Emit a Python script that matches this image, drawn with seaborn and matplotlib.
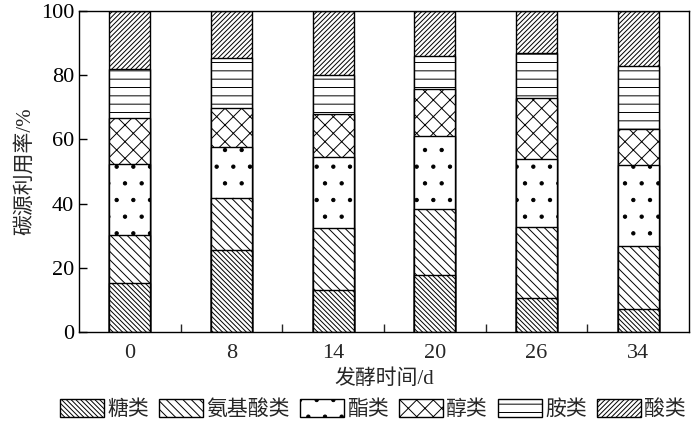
import numpy as np
import pandas as pd
import matplotlib
matplotlib.use("Agg")
import matplotlib.pyplot as plt
from matplotlib.patches import Patch
from matplotlib.ticker import FixedLocator
import seaborn as sns

# ===============================
# DATA (percent per carbon source group)
# ===============================
days = ["0", "8", "14", "20", "26", "34"]
groups = ["糖类", "氨基酸类", "酯类", "醇类", "胺类", "酸类"]

sugar = [15.3, 25.6, 13.1, 17.9, 10.7, 7.1]
amino = [15.0, 16.0, 19.4, 20.3, 21.9, 19.8]
ester = [21.9, 16.1, 22.1, 23.0, 21.2, 25.0]
alcohol = [14.4, 12.1, 13.4, 14.6, 19.1, 11.4]
amine = [15.4, 15.7, 12.0, 10.2, 14.1, 19.7]
acid = [18.0, 14.5, 20.0, 14.0, 13.0, 17.0]

hatches = ["\\" * 7, "\\" * 4, ".", "xx", "--", "/" * 7]

# ===============================
# STYLE
# ===============================
sns.set_style("ticks")
plt.rcParams["font.family"] = ["Liberation Serif", "Noto Sans CJK SC"]
plt.rcParams["hatch.linewidth"] = 0.7
plt.rcParams["axes.linewidth"] = 1.0

series = [sugar, amino, ester, alcohol, amine, acid]
cum = np.cumsum(np.array(series), axis=0)
cum = cum / cum[-1] * 100  # normalise each day to 100 %

fig = plt.figure(figsize=(7, 4.3), dpi=100)
ax = fig.add_axes([79 / 700, 1 - 332 / 430, 610 / 700, 321 / 430])

# draw from the top layer down so lower layers cover upper ones
for i in reversed(range(len(groups))):
    d = pd.DataFrame({"day": days, "value": cum[i]})
    sns.barplot(data=d, x="day", y="value", order=days, color="white",
                edgecolor="black", linewidth=1.0, hatch=hatches[i],
                width=0.4, ax=ax, saturation=1)
for p in ax.patches:
    p.set_facecolor("white")
    p.set_edgecolor("black")

ax.set_xlim(-0.5, 5.5)
ax.set_ylim(0, 100)
ax.set_yticks([0, 20, 40, 60, 80, 100])
ax.tick_params(axis="y", direction="in", length=6, width=1, labelsize=16,
               colors="black")
ax.tick_params(axis="x", which="major", length=0, labelsize=16, pad=9)
ax.xaxis.set_minor_locator(FixedLocator([0.5, 1.5, 2.5, 3.5, 4.5]))
ax.tick_params(axis="x", which="minor", direction="in", length=6, width=1)
for s in ax.spines.values():
    s.set_visible(True)
    s.set_color("black")

ax.set_xlabel("发酵时间/d", fontsize=15, labelpad=4)
ax.set_ylabel("碳源利用率/%", fontsize=15, labelpad=4)

handles = [Patch(facecolor="white", edgecolor="black", hatch=h, label=g)
           for g, h in zip(groups, hatches)]
fig.legend(handles=handles, loc="center", bbox_to_anchor=(0.533, 0.047),
           ncol=6, frameon=False, fontsize=15, handlelength=2.1,
           handleheight=0.9, handletextpad=0.15, columnspacing=0.5,
           borderaxespad=0, borderpad=0)

fig.savefig("out.png", dpi=100)
plt.close()
